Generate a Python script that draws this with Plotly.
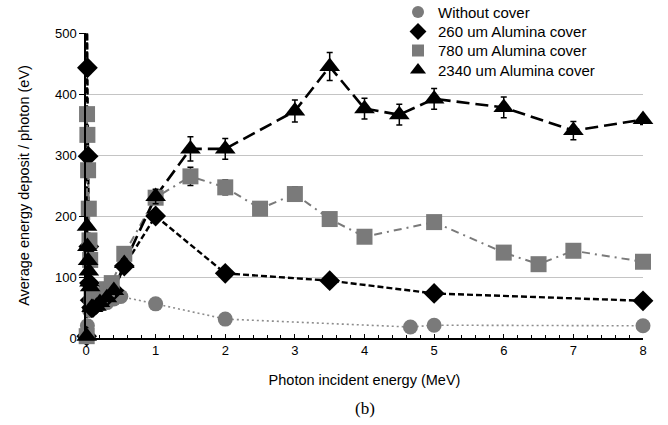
import numpy as np
import plotly.graph_objects as go

# Photon incident energy (MeV) and average energy deposit per photon (eV)
energy_bare = [0.01, 0.02, 0.05, 0.1, 0.2, 0.3, 0.4, 0.5, 1, 2, 4.66, 5, 8]
deposit_bare = [2, 20, 45, 52, 55, 58, 64, 68, 56, 31, 18, 21, 20]
err_bare = [0, 0, 1, 1, 1, 1, 1, 1, 1, 1, 1, 1, 1]

energy_260 = [0.01, 0.015, 0.02, 0.03, 0.04, 0.05, 0.06, 0.08, 0.1, 0.15, 0.2, 0.3,
              0.4, 0.55, 1, 2, 3.5, 5, 8]
deposit_260 = [3, 560, 443, 298, 150, 90, 62, 50, 50, 55, 60, 68, 78, 118, 200, 106,
               94, 73, 61]
err_260 = [0, 0, 4, 4, 3, 2, 2, 1, 1, 1, 1, 1, 2, 3, 4, 3, 3, 2, 2]

energy_780 = [0.01, 0.015, 0.02, 0.03, 0.04, 0.05, 0.06, 0.08, 0.1, 0.15, 0.2, 0.3,
              0.37, 0.55, 1, 1.5, 2, 2.5, 3, 3.5, 4, 5, 6, 6.5, 7, 8]
deposit_780 = [3, 367, 333, 275, 212, 160, 128, 67, 60, 63, 70, 80, 90, 138, 230, 265,
               247, 212, 236, 195, 166, 190, 140, 121, 143, 125]
err_780 = [0, 5, 5, 5, 4, 3, 3, 2, 2, 2, 2, 2, 2, 4, 8, 15, 12, 8, 12, 6, 6, 8, 6, 5, 6, 5]

energy_2340 = [0.01, 0.015, 0.02, 0.03, 0.04, 0.05, 0.06, 0.08, 0.1, 0.15, 0.2, 0.3,
               0.4, 0.55, 1, 1.5, 2, 3, 3.5, 4, 4.5, 5, 6, 7, 8]
deposit_2340 = [3, 183, 150, 127, 110, 92, 84, 50, 50, 52, 58, 66, 78, 122, 232, 310,
                310, 372, 445, 376, 366, 392, 378, 340, 358]
err_2340 = [0, 4, 4, 3, 3, 3, 3, 2, 2, 2, 2, 2, 3, 8, 12, 20, 17, 18, 23, 17, 17, 17,
            17, 15, 8]

x_ticks = [0, 1, 2, 3, 4, 5, 6, 7, 8]
y_ticks = [0, 100, 200, 300, 400, 500]
X_RANGE = [0, 8]
Y_RANGE = [0, 500]

W, H = 668, 425
# plot area in pixels (left, right, top, bottom)
PL, PR, PT, PB = 86, 643, 33, 338

GRAY = "#7a7a7a"
BLACK = "#000000"
FONT = "Liberation Sans, Arial, sans-serif"

series = [
    dict(name="Without cover", x=energy_bare, y=deposit_bare, e=err_bare,
         color=GRAY, symbol="circle", size=15, dash="2px,3px", width=1.6, lcolor="#8c8c8c"),
    dict(name="260 um Alumina cover", x=energy_260, y=deposit_260, e=err_260,
         color=BLACK, symbol="diamond", size=16, dash="6px,3px", width=2.4, lcolor=BLACK),
    dict(name="780 um Alumina cover", x=energy_780, y=deposit_780, e=err_780,
         color=GRAY, symbol="square", size=16, dash="8px,5px,2px,5px", width=2, lcolor=GRAY),
    dict(name="2340 um Alumina cover", x=energy_2340, y=deposit_2340, e=err_2340,
         color=BLACK, symbol="triangle-up", size=18, dash="13px,6px", width=2.6, lcolor=BLACK),
]

fig = go.Figure()

# connecting lines, clipped to the plotting area
for s in series:
    fig.add_trace(go.Scatter(
        x=s["x"], y=s["y"], mode="lines", showlegend=False, hoverinfo="skip",
        line=dict(color=s["lcolor"], width=s["width"], dash=s["dash"]),
    ))

# markers with error bars; only points inside the value range are drawn
for s in series:
    xs = np.array(s["x"], dtype=float)
    ys = np.array(s["y"], dtype=float)
    es = np.array(s["e"], dtype=float)
    inside = ys <= Y_RANGE[1]
    fig.add_trace(go.Scatter(
        x=xs[inside], y=ys[inside], mode="markers", showlegend=False, cliponaxis=False,
        marker=dict(symbol=s["symbol"], size=s["size"], color=s["color"], line=dict(width=0)),
        error_y=dict(type="data", array=es[inside], visible=True, color=BLACK,
                     thickness=1.5, width=3),
    ))

# compact key in the upper right, laid out on a full-figure pixel subplot
KEY_SYMBOL_X = 418
KEY_TEXT_X = 436
KEY_ROWS = [12, 31.5, 50.5, 70]
KEY_SIZES = [12, 13, 12, 14]
for s, ry, ks in zip(series, KEY_ROWS, KEY_SIZES):
    fig.add_trace(go.Scatter(
        x=[KEY_SYMBOL_X], y=[ry], xaxis="x2", yaxis="y2",
        mode="markers", showlegend=False, hoverinfo="skip", opacity=1,
        marker=dict(symbol=s["symbol"], size=ks, color=s["color"], opacity=1,
                    line=dict(width=0)),
    ))
key_labels = [dict(text=s["name"], x=KEY_TEXT_X, y=ry, xref="x2", yref="y2",
                   xanchor="left", yanchor="middle", showarrow=False,
                   font=dict(family=FONT, size=15, color=BLACK))
              for s, ry in zip(series, KEY_ROWS)]

fig.update_layout(
    width=W, height=H,
    margin=dict(l=0, r=0, t=0, b=0, autoexpand=False),
    paper_bgcolor="white", plot_bgcolor="rgba(0,0,0,0)",
    font=dict(family=FONT, size=13, color=BLACK),
    showlegend=False,
    xaxis=dict(
        domain=[PL / W, PR / W], anchor="y",
        range=X_RANGE, tickvals=x_ticks, ticktext=[str(v) for v in x_ticks],
        showgrid=False, zeroline=False, showline=True, linecolor=BLACK, linewidth=1.5,
        ticks="inside", ticklen=4, tickwidth=1.3, tickcolor=BLACK,
        minor=dict(dtick=0.2, ticks="inside", ticklen=3, tickwidth=1.2, tickcolor=BLACK),
        tickfont=dict(size=13),
        title=dict(text="Photon incident energy (MeV)", font=dict(size=14.5), standoff=18),
    ),
    yaxis=dict(
        domain=[(H - PB) / H, (H - PT) / H], anchor="x",
        range=Y_RANGE, tickvals=y_ticks, ticktext=[str(v) for v in y_ticks],
        showgrid=True, gridcolor="#c4c4c4", gridwidth=1.3, zeroline=False,
        showline=True, linecolor=BLACK, linewidth=1.5,
        ticks="outside", ticklen=5, tickwidth=1.3, tickcolor=BLACK,
        tickfont=dict(size=13),
        title=dict(text="Average energy deposit / photon (eV)", font=dict(size=14.5), standoff=22),
    ),
    xaxis2=dict(domain=[0, 1], range=[0, W], anchor="y2", visible=False, fixedrange=True),
    yaxis2=dict(domain=[0, 1], range=[H, 0], anchor="x2", visible=False, fixedrange=True),
    annotations=key_labels + [dict(
        text="(b)", x=(PL + PR) / 2, y=408, xref="x2", yref="y2", showarrow=False,
        xanchor="center", yanchor="middle",
        font=dict(family="Liberation Serif, Times New Roman, serif", size=17, color=BLACK),
    )],
)

fig.write_html("out.html")
